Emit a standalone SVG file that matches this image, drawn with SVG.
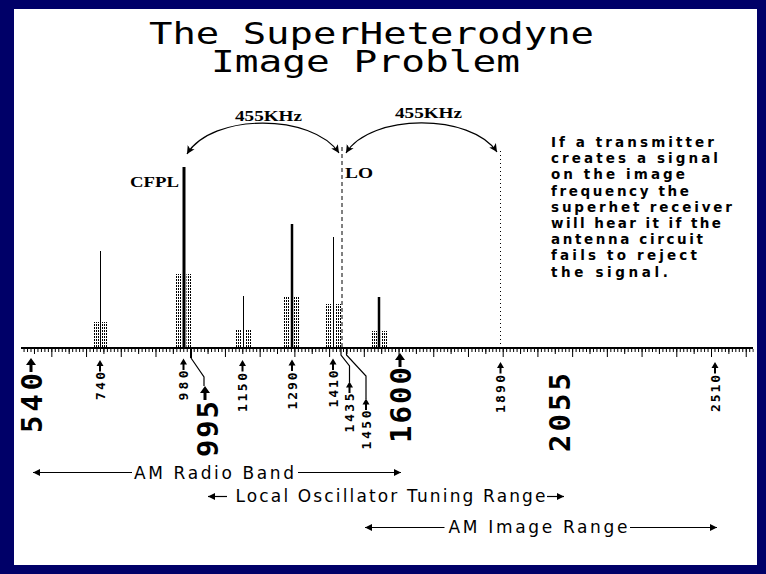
<svg xmlns="http://www.w3.org/2000/svg" width="766" height="574" viewBox="0 0 766 574">
<defs>
<style>
.ink{fill:#000}
.sig{stroke:#000;fill:none}
.title{font-family:"DejaVu Sans Mono","Liberation Mono",monospace;font-size:31px;fill:#000}
.serif{font-family:"Liberation Serif","DejaVu Serif",serif;font-weight:bold;font-size:14px;fill:#000}
.small{font-family:"DejaVu Sans Mono","Liberation Mono",monospace;font-weight:bold;font-size:13px;fill:#000}
.big{font-family:"DejaVu Sans Mono","Liberation Mono",monospace;font-weight:bold;font-size:29px;fill:#000}
.note{font-family:"DejaVu Sans","Liberation Sans",sans-serif;font-weight:bold;font-size:13.5px;fill:#000}
.range{font-family:"DejaVu Sans","Liberation Sans",sans-serif;font-size:17px;fill:#000}
.conn{stroke:#000;fill:none;stroke-width:1.2}
</style>
<pattern id="stip" width="2" height="3" patternUnits="userSpaceOnUse"><rect width="1" height="2" fill="#000"/></pattern>
<marker id="arcHead" markerUnits="userSpaceOnUse" markerWidth="9" markerHeight="9" refX="8" refY="4" orient="auto-start-reverse" viewBox="0 0 9 8"><path d="M0,0 L8,4 L0,8 L2,4 Z" fill="#000"/></marker>
<marker id="rngHead" markerUnits="userSpaceOnUse" markerWidth="8" markerHeight="8" refX="7" refY="4" orient="auto-start-reverse" viewBox="0 0 8 8"><path d="M0,0.5 L7,4 L0,7.5 Z" fill="#000"/></marker>
<path id="upS" d="M0,0 L3.5,6 L-3.5,6 Z M-1,5.5 H1 V11.5 H-1 Z"/>
<path id="upB" d="M0,0 L5,7 L-5,7 Z M-1.5,6.5 H1.5 V14 H-1.5 Z"/>
</defs>

<rect x="0" y="0" width="766" height="574" fill="#000068"/>
<rect x="14" y="9" width="743" height="556" fill="#fff"/>

<g id="title">
<text class="title" x="149" y="44" textLength="445" lengthAdjust="spacingAndGlyphs">The SuperHeterodyne</text>
<text class="title" x="211" y="72" textLength="309" lengthAdjust="spacingAndGlyphs">Image Problem</text>
</g>

<g id="signals">
<rect x="93" y="322" width="6" height="25" fill="url(#stip)"/><rect x="102" y="322" width="6" height="25" fill="url(#stip)"/>
<line class="sig" x1="100.5" y1="251" x2="100.5" y2="347" stroke-width="1"/>
<rect x="176" y="274" width="5.5" height="73" fill="url(#stip)"/><rect x="186.5" y="274" width="5.5" height="73" fill="url(#stip)"/>
<line class="sig" x1="184" y1="167" x2="184" y2="347" stroke-width="3"/>
<rect x="236" y="330" width="6" height="17" fill="url(#stip)"/><rect x="245" y="330" width="6" height="17" fill="url(#stip)"/>
<line class="sig" x1="243.5" y1="296" x2="243.5" y2="347" stroke-width="1"/>
<rect x="283" y="297" width="7" height="50" fill="url(#stip)"/><rect x="294" y="297" width="5" height="50" fill="url(#stip)"/>
<line class="sig" x1="292" y1="224" x2="292" y2="347" stroke-width="2.5"/>
<rect x="326" y="304" width="6" height="43" fill="url(#stip)"/><rect x="335" y="304" width="6" height="43" fill="url(#stip)"/>
<line class="sig" x1="333.5" y1="237" x2="333.5" y2="347" stroke-width="1"/>
<rect x="371" y="331" width="6" height="16" fill="url(#stip)"/><rect x="381" y="331" width="6" height="16" fill="url(#stip)"/>
<line class="sig" x1="379" y1="297" x2="379" y2="347" stroke-width="2.5"/>
</g>

<g id="lo-line">
<line class="sig" x1="342" y1="147" x2="342" y2="347" stroke-width="1" stroke-dasharray="4 3"/>
<text class="serif" x="345" y="178" textLength="28" lengthAdjust="spacingAndGlyphs">LO</text>
</g>
<g id="image-line">
<line class="sig" x1="500.5" y1="151" x2="500.5" y2="347" stroke-width="1" stroke-dasharray="1 3"/>
</g>
<g id="cfpl">
<text class="serif" x="130" y="187" textLength="49" lengthAdjust="spacingAndGlyphs">CFPL</text>
</g>

<g id="if-labels">
<text class="serif" x="235" y="121" font-size="13.5" textLength="67" lengthAdjust="spacingAndGlyphs">455KHz</text>
<text class="serif" x="395" y="118" font-size="13.5" textLength="67" lengthAdjust="spacingAndGlyphs">455KHz</text>
</g>

<g id="axis">
<line x1="21" y1="348" x2="753" y2="348" stroke="#000" stroke-width="2"/>
<path d="M23.56 350.5 H753.5" stroke="#000" stroke-width="3" stroke-dasharray="1 2.472"/>
<path d="M33.97 351.5 H753.5" stroke="#000" stroke-width="5" stroke-dasharray="1 33.72"/>
<path d="M51.33 353 H753.5" stroke="#000" stroke-width="8" stroke-dasharray="1 33.72"/>
<line x1="191" y1="349" x2="191" y2="358" stroke="#000" stroke-width="2"/>
</g>

<g id="freq-labels">
<use href="#upB" x="31" y="358"/>
<text class="big" transform="translate(42,373) rotate(-90)" text-anchor="end" textLength="60" lengthAdjust="spacing">540</text>
<use href="#upS" x="100" y="360"/>
<text class="small" transform="translate(104.75,372) rotate(-90)" text-anchor="end" textLength="28" lengthAdjust="spacing">740</text>
<use href="#upS" x="183.5" y="358.5"/>
<text class="small" transform="translate(188.25,370.5) rotate(-90)" text-anchor="end" textLength="30" lengthAdjust="spacing">980</text>
<use href="#upB" x="205" y="386"/>
<text class="big" transform="translate(217.5,401) rotate(-90)" text-anchor="end" textLength="56" lengthAdjust="spacing">995</text>
<use href="#upS" x="242.5" y="360"/>
<text class="small" transform="translate(247.25,373) rotate(-90)" text-anchor="end" textLength="39" lengthAdjust="spacing">1150</text>
<use href="#upS" x="292" y="359.5"/>
<text class="small" transform="translate(296.75,372.5) rotate(-90)" text-anchor="end" textLength="37" lengthAdjust="spacing">1290</text>
<use href="#upS" x="333" y="358.5"/>
<text class="small" transform="translate(337.75,370.5) rotate(-90)" text-anchor="end" textLength="37" lengthAdjust="spacing">1410</text>
<use href="#upS" x="349.5" y="381.5"/>
<text class="small" transform="translate(354.25,393.5) rotate(-90)" text-anchor="end" textLength="39" lengthAdjust="spacing">1435</text>
<use href="#upS" x="366" y="398.5"/>
<text class="small" transform="translate(370.75,410.5) rotate(-90)" text-anchor="end" textLength="39" lengthAdjust="spacing">1450</text>
<use href="#upB" x="400" y="353"/>
<text class="big" transform="translate(410.5,367) rotate(-90)" text-anchor="end" textLength="76" lengthAdjust="spacing">1600</text>
<use href="#upS" x="500.5" y="362"/>
<text class="small" transform="translate(505.25,375) rotate(-90)" text-anchor="end" textLength="38" lengthAdjust="spacing">1890</text>
<text class="big" transform="translate(569.5,373) rotate(-90)" text-anchor="end" textLength="79" lengthAdjust="spacing">2055</text>
<use href="#upS" x="715" y="362"/>
<text class="small" transform="translate(719.75,375) rotate(-90)" text-anchor="end" textLength="37" lengthAdjust="spacing">2510</text>
</g>

<g id="note">
<text class="note" x="551" y="147" textLength="163" lengthAdjust="spacing">If a transmitter</text>
<text class="note" x="551" y="163.2" textLength="167" lengthAdjust="spacing">creates a signal</text>
<text class="note" x="551" y="179.4" textLength="134" lengthAdjust="spacing">on the image</text>
<text class="note" x="551" y="195.6" textLength="138" lengthAdjust="spacing">frequency the</text>
<text class="note" x="551" y="211.8" textLength="181" lengthAdjust="spacing">superhet receiver</text>
<text class="note" x="551" y="228" textLength="170" lengthAdjust="spacing">will hear it if the</text>
<text class="note" x="551" y="244.2" textLength="152" lengthAdjust="spacing">antenna circuit</text>
<text class="note" x="551" y="260.4" textLength="146" lengthAdjust="spacing">fails to reject</text>
<text class="note" x="551" y="276.6" textLength="117" lengthAdjust="spacing">the signal.</text>
</g>

<g id="ranges">
<text class="range" x="134" y="478.5" textLength="160" lengthAdjust="spacing">AM Radio Band</text>
<text class="range" x="235.5" y="502.3" textLength="310" lengthAdjust="spacing">Local Oscillator Tuning Range</text>
<text class="range" x="448.5" y="533.3" textLength="179" lengthAdjust="spacing">AM Image Range</text>
</g>

<g id="connectors">
<path class="conn" d="M187,154 C212,113 312,113 339,153" marker-start="url(#arcHead)" marker-end="url(#arcHead)"/>
<path class="conn" d="M346,153 C371,113 471,113 497,152" marker-start="url(#arcHead)" marker-end="url(#arcHead)"/>
<polyline class="conn" stroke-width="1" points="191,358 204,377 204,386"/>
<polyline class="conn" stroke-width="1" points="341,349 341,355 349.5,366 349.5,382"/>
<polyline class="conn" stroke-width="1" points="346.5,349 346.5,355 366,376 366,399"/>
<line class="conn" stroke-width="1.5" x1="33" y1="472.5" x2="132" y2="472.5" marker-start="url(#rngHead)"/>
<line class="conn" stroke-width="1.5" x1="298" y1="472.5" x2="401" y2="472.5" marker-end="url(#rngHead)"/>
<line class="conn" stroke-width="1.5" x1="208" y1="496.5" x2="227" y2="496.5" marker-start="url(#rngHead)"/>
<line class="conn" stroke-width="1.5" x1="547" y1="496.5" x2="564" y2="496.5" marker-end="url(#rngHead)"/>
<line class="conn" stroke-width="1.5" x1="365" y1="527.5" x2="444.5" y2="527.5" marker-start="url(#rngHead)"/>
<line class="conn" stroke-width="1.5" x1="630" y1="527.5" x2="717" y2="527.5" marker-end="url(#rngHead)"/>
</g>
</svg>
